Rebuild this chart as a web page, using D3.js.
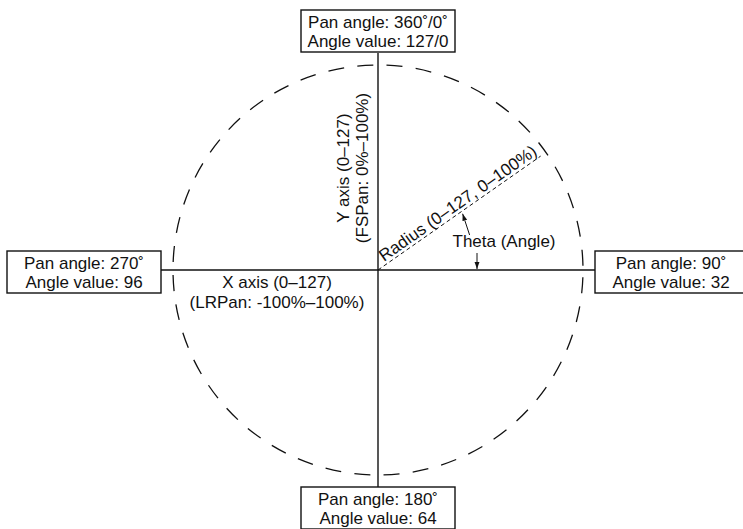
<!DOCTYPE html>
<html>
<head>
<meta charset="utf-8">
<script src="https://cdn.jsdelivr.net/npm/d3@7"></script>
<style>
  body { margin: 0; background: #fff; }
  text { font-family: "Liberation Sans", Arial, Helvetica, sans-serif; font-size: 17px; fill: #111; }
</style>
</head>
<body>
<svg id="chart" width="743" height="529"></svg>
<script>
// pan positions round the circle (pan angle in degrees, clockwise from top)
const panAngles = [0, 90, 180, 270];
const panLabels = ["Pan angle: 360˚/0˚", "Pan angle: 90˚", "Pan angle: 180˚", "Pan angle: 270˚"];
const valueLabels = ["Angle value: 127/0", "Angle value: 32", "Angle value: 64", "Angle value: 96"];

// value range of the radius / axes
const valueDomain = [0, 127];
const sampleAngle = 55;     // pan angle of the drawn radius
const sampleValue = 123;    // radius length
const thetaPoint = 64;      // where the theta arrow meets the radius

const yAxisLabels = ["Y axis (0–127)", "(FSPan: 0%–100%)"];
const xAxisLabels = ["X axis (0–127)", "(LRPan: -100%–100%)"];
const radiusLabel = "Radius (0–127, 0–100%)";
const thetaLabel = "Theta (Angle)";

const svg = d3.select("#chart");
const cx = 378, cy = 270;
const boxGap = 12, boxW = 154, boxH = 42;

let rScale = d3.scaleLinear()
  .domain(valueDomain)
  .range([0, 205]);

// polar -> screen
function pos(angle, value) {
  let a = angle * Math.PI / 180;
  return [cx + rScale(value) * Math.sin(a), cy - rScale(value) * Math.cos(a)];
}

const outer = rScale.invert(rScale(valueDomain[1]) + boxGap);

svg.append("defs").append("marker")
  .attr("id", "arrow")
  .attr("viewBox", "0 0 10 10")
  .attr("refX", 10).attr("refY", 5)
  .attr("markerWidth", 7).attr("markerHeight", 7)
  .attr("orient", "auto-start-reverse")
  .append("path")
  .attr("d", "M0,1.5 L10,5 L0,8.5 Z")
  .attr("fill", "#111");

// dashed circle
svg.append("circle")
  .attr("cx", cx).attr("cy", cy)
  .attr("r", rScale(valueDomain[1]))
  .attr("fill", "none")
  .attr("stroke", "#111")
  .attr("stroke-width", 1.3)
  .attr("stroke-dasharray", "16,13.3")
  .attr("stroke-dashoffset", 22);

// axes
[[0, 180], [90, 270]].forEach(pair => {
  let p1 = pos(pair[0], outer), p2 = pos(pair[1], outer);
  svg.append("line")
    .attr("x1", p1[0]).attr("y1", p1[1])
    .attr("x2", p2[0]).attr("y2", p2[1])
    .attr("stroke", "#111")
    .attr("stroke-width", 1.4);
});

// radius
let rEnd = pos(sampleAngle, sampleValue);
svg.append("line")
  .attr("x1", cx).attr("y1", cy)
  .attr("x2", rEnd[0]).attr("y2", rEnd[1])
  .attr("stroke", "#111")
  .attr("stroke-width", 1)
  .attr("stroke-dasharray", "4,3");

let rotDeg = sampleAngle - 90;
svg.append("text")
  .attr("transform", `translate(${cx + 6},${cy - 8}) rotate(${rotDeg})`)
  .text(radiusLabel);

// theta label and arrows
svg.append("text")
  .attr("x", 504).attr("y", 247)
  .attr("text-anchor", "middle")
  .text(thetaLabel);

let thetaAxis = [477, cy - 1];
svg.append("line")
  .attr("x1", thetaAxis[0]).attr("y1", 253)
  .attr("x2", thetaAxis[0]).attr("y2", thetaAxis[1])
  .attr("stroke", "#111").attr("stroke-width", 1)
  .attr("marker-end", "url(#arrow)");

let onRadius = pos(sampleAngle, thetaPoint);
svg.append("line")
  .attr("x1", onRadius[0] + 7).attr("y1", 235)
  .attr("x2", onRadius[0]).attr("y2", onRadius[1] + 3)
  .attr("stroke", "#111").attr("stroke-width", 1)
  .attr("marker-end", "url(#arrow)");

// Y axis label
yAxisLabels.forEach((t, i) => {
  svg.append("text")
    .attr("transform", `translate(${349 + i * 19},168) rotate(-90)`)
    .attr("text-anchor", "middle")
    .text(t);
});

// X axis label
xAxisLabels.forEach((t, i) => {
  svg.append("text")
    .attr("x", 277).attr("y", 288 + i * 20)
    .attr("text-anchor", "middle")
    .text(t);
});

// pan boxes
panAngles.forEach((ang, i) => {
  let p = pos(ang, outer);
  let x0, y0;
  if (ang === 0) { x0 = p[0] - boxW / 2; y0 = p[1] - boxH - 1; }
  else if (ang === 180) { x0 = p[0] - boxW / 2; y0 = p[1]; }
  else if (ang === 90) { x0 = p[0]; y0 = p[1] - boxH / 2 + 2; }
  else { x0 = p[0] - boxW; y0 = p[1] - boxH / 2 + 2; }

  let g = svg.append("g").attr("transform", `translate(${x0},${y0})`);
  g.append("rect")
    .attr("width", boxW).attr("height", boxH)
    .attr("fill", "#fff")
    .attr("stroke", "#111")
    .attr("stroke-width", 1.4);
  let tx = ang === 90 ? 76 : boxW / 2;
  g.append("text").attr("x", tx).attr("y", 18).attr("text-anchor", "middle").text(panLabels[i]);
  g.append("text").attr("x", tx).attr("y", 37).attr("text-anchor", "middle").text(valueLabels[i]);
});
</script>
</body>
</html>
